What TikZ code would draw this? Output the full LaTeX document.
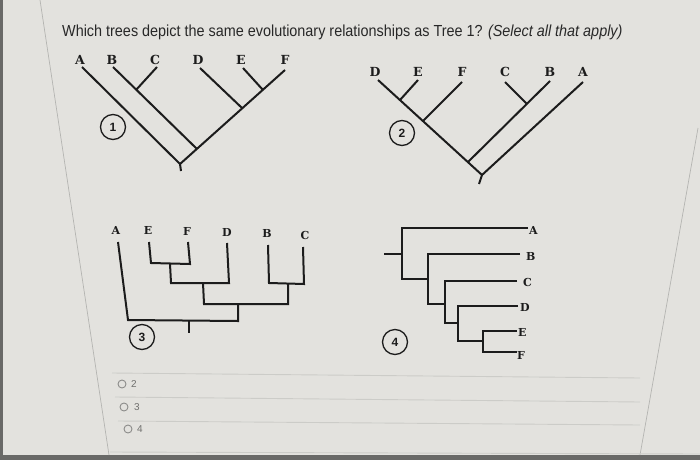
\documentclass[tikz,border=0pt]{standalone}
\usepackage{fontspec}
\setmainfont{Liberation Sans}
\newfontfamily\labfont{DejaVu Serif}
\definecolor{bg}{RGB}{227,226,222}
\definecolor{ink}{RGB}{28,28,28}
\definecolor{txt}{RGB}{40,40,40}
\definecolor{faint}{RGB}{180,180,177}
\definecolor{sep}{RGB}{204,204,200}
\definecolor{edge}{RGB}{105,105,103}
\definecolor{radio}{RGB}{140,140,138}
\begin{document}
\begin{tikzpicture}[x=1pt,y=-1pt,
  br/.style={line width=2pt, draw=ink, line join=miter},
  leaf/.style={font=\labfont\bfseries\fontsize{12.5}{12.5}\selectfont, text=ink, inner sep=0pt},
  leafs/.style={font=\labfont\bfseries\fontsize{11}{11}\selectfont, text=ink, inner sep=0pt},
  treenum/.style={circle, draw=ink, line width=1.3pt, minimum size=25pt, inner sep=0pt,
    font=\bfseries\fontsize{12}{12}\selectfont, text=ink},
  radiobtn/.style={circle, draw=radio, line width=0.9pt, minimum size=8pt, inner sep=0pt},
  radiotxt/.style={font=\fontsize{10}{10}\selectfont, text=radio!80!black, inner sep=0pt, anchor=west},
  sepline/.style={draw=sep, line width=0.9pt},
  faintline/.style={draw=faint, line width=0.7pt}]
\useasboundingbox (0,0) rectangle (700,460);
\fill[bg] (0,0) rectangle (700,460);
\fill[edge] (0,0) rectangle (2.5,460);
\fill[edge] (0,455) rectangle (700,460);
% faint page edges
\coordinate (fl1) at (40,0);
\coordinate (fl2) at (109,455);
\coordinate (fr1) at (698,128);
\coordinate (fr2) at (640,455);
\draw[faintline] (fl1) -- (fl2);
\draw[faintline] (fr1) -- (fr2);
% title
\node[anchor=base west, inner sep=0pt, text=txt] (title) at (62,37)
  {\scalebox{0.9}[1]{\fontsize{16}{19}\selectfont Which trees depict the same evolutionary relationships as Tree 1? \textit{(Select all that apply)}}};

% ---------- Tree 1 ----------
\node[leaf] (A1) at (80,60) {A};
\node[leaf] (B1) at (112,60) {B};
\node[leaf] (C1) at (155,60) {C};
\node[leaf] (D1) at (198,60) {D};
\node[leaf] (E1) at (241,60) {E};
\node[leaf] (F1) at (285,60) {F};
\coordinate (a1) at (82,67);
\coordinate (b1) at (113,67);
\coordinate (c1) at (157,67);
\coordinate (d1) at (200,68);
\coordinate (e1) at (243,68);
\coordinate (f1) at (285,70);
\coordinate (r1) at (180,164);
\coordinate (r1s) at (181,171);
\coordinate (bc1) at (136,90);
\coordinate (bf1) at (197,149);
\coordinate (df1) at (242,108);
\coordinate (ef1) at (263,90);
\draw[br] (a1) -- (r1) -- (f1);
\draw[br] (r1) -- (r1s);
\draw[br] (b1) -- (bf1);
\draw[br] (c1) -- (bc1);
\draw[br] (d1) -- (df1);
\draw[br] (e1) -- (ef1);
\node[treenum] (n1) at (113,127) {1};

% ---------- Tree 2 ----------
\node[leaf] (D2) at (375,72) {D};
\node[leaf] (E2) at (418,72) {E};
\node[leaf] (F2) at (462,72) {F};
\node[leaf] (C2) at (505,72) {C};
\node[leaf] (B2) at (550,72) {B};
\node[leaf] (A2) at (583,72) {A};
\coordinate (d2) at (378,80);
\coordinate (e2) at (418,80);
\coordinate (f2) at (462,82);
\coordinate (c2) at (505,82);
\coordinate (b2) at (550,81);
\coordinate (a2) at (583,82);
\coordinate (r2) at (482,175);
\coordinate (r2s) at (479,184);
\coordinate (ed2) at (400,100);
\coordinate (fd2) at (423,121);
\coordinate (bd2) at (468,162);
\coordinate (cb2) at (527,104);
\draw[br] (d2) -- (r2) -- (a2);
\draw[br] (r2) -- (r2s);
\draw[br] (e2) -- (ed2);
\draw[br] (f2) -- (fd2);
\draw[br] (b2) -- (bd2);
\draw[br] (c2) -- (cb2);
\node[treenum] (n2) at (402,133) {2};

% ---------- Tree 3 ----------
\node[leafs] (A3) at (116,230) {A};
\node[leafs] (E3) at (148,230) {E};
\node[leafs] (F3) at (187,231) {F};
\node[leafs] (D3) at (227,232) {D};
\node[leafs] (B3) at (267,233) {B};
\node[leafs] (C3) at (305,235) {C};
\coordinate (a3) at (118,242);
\coordinate (a3b) at (128,320);
\coordinate (r3) at (238,321);
\coordinate (r3m) at (189,321);
\coordinate (r3s) at (189,333);
\coordinate (e3) at (149,242);
\coordinate (e3b) at (151,263);
\coordinate (f3b) at (190,264);
\coordinate (f3) at (188,242);
\coordinate (ef3) at (170,264);
\coordinate (ef3b) at (171,283);
\coordinate (d3b) at (229,283);
\coordinate (d3) at (227,243);
\coordinate (efd3) at (203,283);
\coordinate (efd3b) at (204,304);
\coordinate (bc3b) at (288,304);
\coordinate (bc3) at (288,284);
\coordinate (mid3) at (238,304);
\coordinate (b3) at (268,245);
\coordinate (b3b) at (269,283);
\coordinate (c3b) at (304,284);
\coordinate (c3) at (303,247);
\draw[br] (a3) -- (a3b) -- (r3) -- (mid3);
\draw[br] (r3m) -- (r3s);
\draw[br] (e3) -- (e3b) -- (f3b) -- (f3);
\draw[br] (ef3) -- (ef3b) -- (d3b) -- (d3);
\draw[br] (efd3) -- (efd3b) -- (bc3b) -- (bc3);
\draw[br] (b3) -- (b3b) -- (c3b) -- (c3);
\node[treenum] (n3) at (142,337) {3};

% ---------- Tree 4 ----------
\coordinate (r4s) at (384,254);
\coordinate (r4) at (402,254);
\coordinate (a4t) at (402,228);
\coordinate (a4) at (528,228);
\coordinate (r4b) at (402,279);
\coordinate (n4b) at (428,279);
\coordinate (b4t) at (428,254);
\coordinate (b4) at (520,254);
\coordinate (n4bb) at (428,304);
\coordinate (n4c) at (445,304);
\coordinate (c4t) at (445,281);
\coordinate (c4) at (517,281);
\coordinate (n4cb) at (445,323);
\coordinate (n4d) at (458,323);
\coordinate (d4t) at (458,306);
\coordinate (d4) at (518,306);
\coordinate (n4db) at (458,341);
\coordinate (n4e) at (483,341);
\coordinate (e4t) at (483,331);
\coordinate (e4) at (517,331);
\coordinate (f4t) at (483,352);
\coordinate (f4) at (517,352);
\draw[br] (r4s) -- (r4);
\draw[br] (a4) -- (a4t) -- (r4b) -- (n4b);
\draw[br] (b4) -- (b4t) -- (n4bb) -- (n4c);
\draw[br] (c4) -- (c4t) -- (n4cb) -- (n4d);
\draw[br] (d4) -- (d4t) -- (n4db) -- (n4e);
\draw[br] (e4) -- (e4t) -- (f4t) -- (f4);
\node[leafs, anchor=west] (A4) at (529,230) {A};
\node[leafs, anchor=west] (B4) at (526,256) {B};
\node[leafs, anchor=west] (C4) at (523,282) {C};
\node[leafs, anchor=west] (D4) at (520,307) {D};
\node[leafs, anchor=west] (E4) at (518,332) {E};
\node[leafs, anchor=west] (F4) at (517,355) {F};
\node[treenum] (n4) at (395,342) {4};

% ---------- answer options ----------
\coordinate (s1a) at (112,373); \coordinate (s1b) at (640,378);
\coordinate (s2a) at (115,397); \coordinate (s2b) at (640,402);
\coordinate (s3a) at (118,421); \coordinate (s3b) at (640,425);
\coordinate (s4a) at (110,452); \coordinate (s4b) at (700,454);
\draw[sepline] (s1a) -- (s1b);
\draw[sepline] (s2a) -- (s2b);
\draw[sepline] (s3a) -- (s3b);
\draw[sepline] (s4a) -- (s4b);
\node[radiobtn] (o2) at (122,384) {};
\node[radiotxt] (t2) at (131,384) {2};
\node[radiobtn] (o3) at (124,407) {};
\node[radiotxt] (t3) at (134,407) {3};
\node[radiobtn] (o4) at (128,429) {};
\node[radiotxt] (t4) at (137,429) {4};
\end{tikzpicture}
\end{document}
